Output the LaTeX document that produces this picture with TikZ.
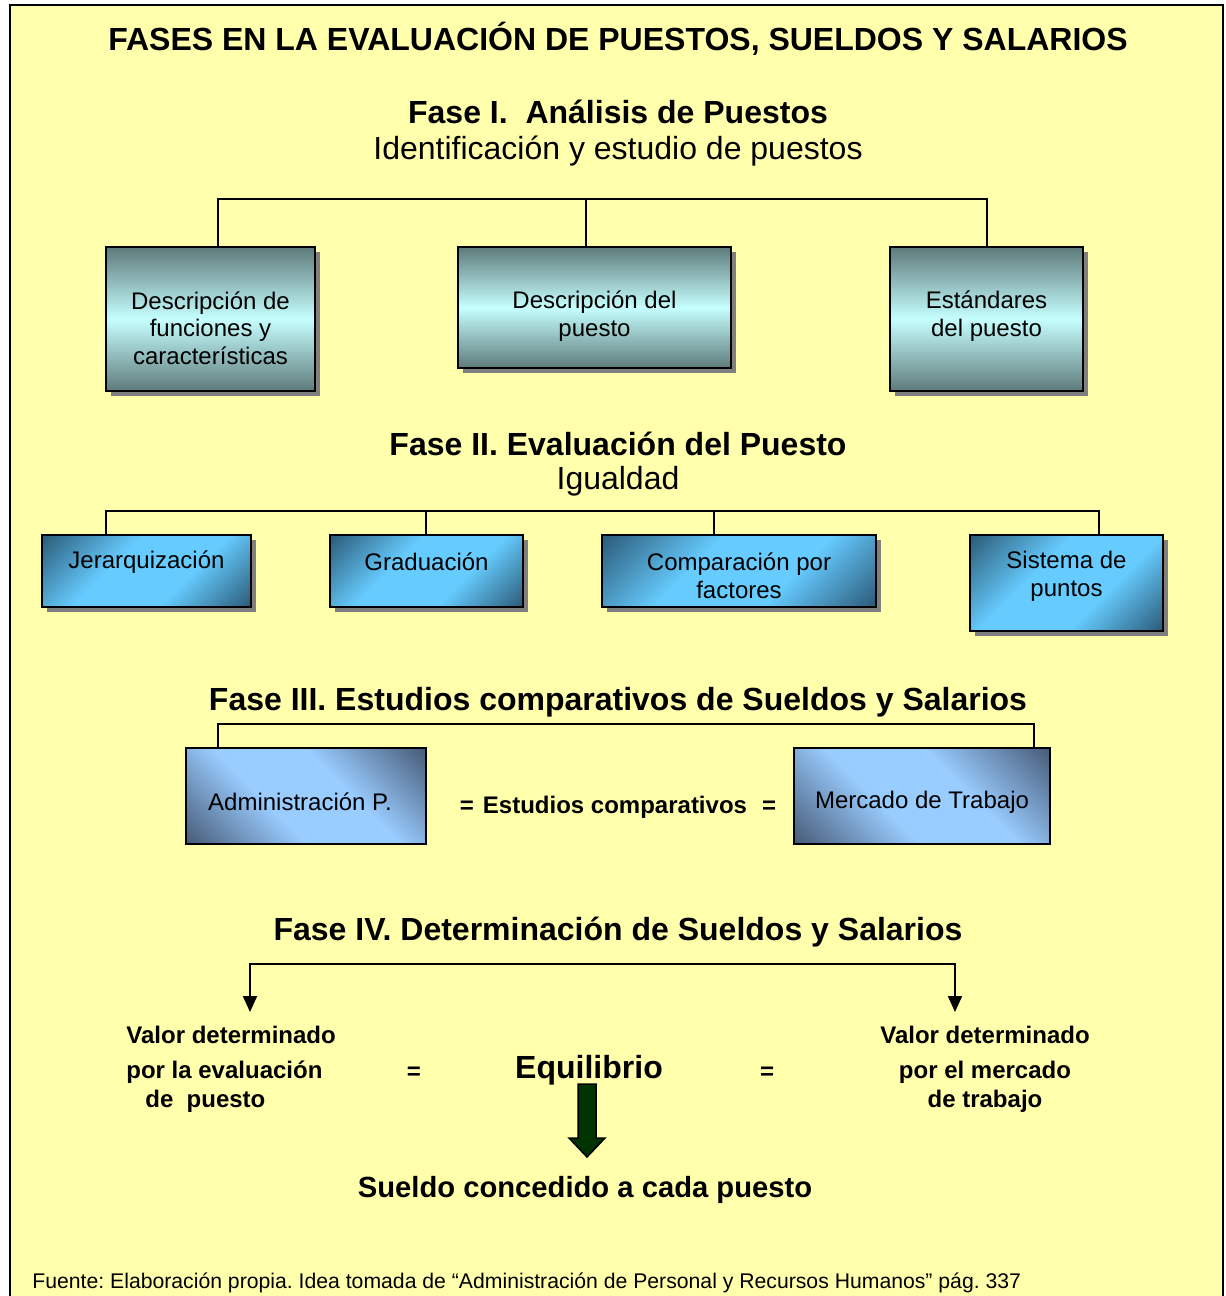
\documentclass[tikz,border=0pt]{standalone}
\usepackage{fontspec}
\setmainfont{Liberation Sans}
\usetikzlibrary{arrows.meta,shadows}
\frenchspacing
\definecolor{paper}{RGB}{255,255,172}
\definecolor{slatedark}{RGB}{94,122,122}
\definecolor{slatelight}{RGB}{198,255,255}
\definecolor{bluedark}{RGB}{44,92,122}
\definecolor{bluelight}{RGB}{102,204,255}
\definecolor{skydark}{RGB}{72,92,120}
\definecolor{skylight}{RGB}{153,204,255}
\definecolor{shadowgray}{RGB}{128,128,128}
\definecolor{eqgreen}{RGB}{0,51,0}
\pgfdeclarehorizontalshading{evalshade}{100bp}{color(0bp)=(bluedark); color(15bp)=(bluedark);
  color(40bp)=(bluelight); color(62bp)=(bluelight); color(85bp)=(bluedark); color(100bp)=(bluedark)}
\pgfdeclarehorizontalshading{compshade}{100bp}{color(0bp)=(skydark); color(15bp)=(skydark);
  color(40bp)=(skylight); color(60bp)=(skylight); color(85bp)=(skydark); color(100bp)=(skydark)}
\tikzset{
  anabox/.style={draw,line width=1pt,top color=slatedark,bottom color=slatedark,middle color=slatelight,
    drop shadow={shadow xshift=2.5pt,shadow yshift=-2.5pt,fill=shadowgray,opacity=1}},
  evalbox/.style={draw,line width=1pt,shading=evalshade,shading angle=-45,
    drop shadow={shadow xshift=2.5pt,shadow yshift=-2.5pt,fill=shadowgray,opacity=1}},
  compbox/.style={draw,line width=1pt,shading=compshade,shading angle=45},
  boxtext/.style={align=center,inner sep=0pt,font=\fontsize{12}{13.8}\selectfont},
  fasetitle/.style={inner sep=0pt,font=\fontsize{16}{19}\selectfont\bfseries},
  fasesub/.style={inner sep=0pt,font=\fontsize{16}{19}\selectfont},
  valtext/.style={inner sep=0pt,font=\fontsize{12}{14.4}\selectfont\bfseries},
  treeline/.style={line width=1pt},
  every picture/.style={line cap=rect,line join=miter}
}
\begin{document}
\begin{tikzpicture}[x=0.5pt,y=-0.5pt]
  \useasboundingbox (0,0) rectangle (1226,1296);
  \fill[paper] (10,5) rectangle (1223,1296);
  \draw[line width=1pt] (10,1296) -- (10,5) -- (1223,5) -- (1223,1296);

  \node[fasetitle] (title) at (618,39) {FASES EN LA EVALUACIÓN DE PUESTOS, SUELDOS Y SALARIOS};

  % fase I
  \node[fasetitle] (fase1) at (618,112) {Fase I.\ \ Análisis de Puestos};
  \node[fasesub] (fase1sub) at (618,151) {Identificación y estudio de puestos};
  \node[anabox,minimum width=104.5pt,minimum height=72pt] (desc) at (210.5,319) {};
  \node[anabox,minimum width=136.5pt,minimum height=60.5pt] (puesto) at (594.5,307.5) {};
  \node[anabox,minimum width=96.5pt,minimum height=72pt] (estand) at (986.5,319) {};
  \node[boxtext] (desct) at (desc.north |- 0,328) {Descripción de\\funciones y\\características};
  \node[boxtext] (puestot) at (puesto.north |- 0,316) {Descripción del\\puesto};
  \node[boxtext] (estandt) at (estand.north |- 0,316) {Estándares\\del puesto};
  \coordinate (f1l) at (218,199);
  \coordinate (f1m) at (586,199);
  \coordinate (f1r) at (987,199);
  \draw[treeline] (f1l) -- (f1r);
  \draw[treeline] (f1l) -- (f1l |- desc.north);
  \draw[treeline] (f1m) -- (f1m |- puesto.north);
  \draw[treeline] (f1r) -- (f1r |- estand.north);

  % fase II
  \node[fasetitle] (fase2) at (618,444) {Fase II. Evaluación del Puesto};
  \node[fasesub] (fase2sub) at (618,481) {Igualdad};
  \node[evalbox,minimum width=104.5pt,minimum height=36pt] (jerar) at (146.5,571) {};
  \node[evalbox,minimum width=96.5pt,minimum height=36pt] (grad) at (426.5,571) {};
  \node[evalbox,minimum width=137pt,minimum height=36pt] (compar) at (739,571) {};
  \node[evalbox,minimum width=96.5pt,minimum height=48pt] (sist) at (1066.5,583) {};
  \node[boxtext] (jerart) at (jerar.north |- 0,562) {Jerarquización};
  \node[boxtext] (gradt) at (grad.north |- 0,562) {Graduación};
  \node[boxtext] (compart) at (compar.north |- 0,576) {Comparación por\\factores};
  \node[boxtext] (sistt) at (sist.north |- 0,576) {Sistema de\\puntos};
  \coordinate (f2a) at (106,511);
  \coordinate (f2b) at (426,511);
  \coordinate (f2c) at (714,511);
  \coordinate (f2d) at (1099,511);
  \draw[treeline] (f2a) -- (f2d);
  \draw[treeline] (f2a) -- (f2a |- jerar.north);
  \draw[treeline] (f2b) -- (f2b |- grad.north);
  \draw[treeline] (f2c) -- (f2c |- compar.north);
  \draw[treeline] (f2d) -- (f2d |- sist.north);

  % fase III
  \node[fasetitle] (fase3) at (618,702) {Fase III. Estudios comparativos de Sueldos y Salarios};
  \node[compbox,minimum width=120pt,minimum height=48pt] (admin) at (306,796) {};
  \node[compbox,minimum width=128pt,minimum height=48pt] (mercado) at (922,796) {};
  \node[boxtext] (admint) at (300,802) {Administración P.};
  \node[boxtext] (mercadot) at (922,802) {Mercado de Trabajo};
  \node[valtext] (estudios) at (618,807) {=\hspace{4.5pt}Estudios comparativos\hspace{7.5pt}=};
  \coordinate (f3l) at (218,724);
  \coordinate (f3r) at (1034,724);
  \draw[treeline] (f3l) -- (f3r);
  \draw[treeline] (f3l) -- (f3l |- admin.north);
  \draw[treeline] (f3r) -- (f3r |- mercado.north);

  % fase IV
  \node[fasetitle] (fase4) at (618,932) {Fase IV. Determinación de Sueldos y Salarios};
  \node[valtext,align=left,anchor=north west] (valeval) at (126,1026)
    {Valor determinado\\[3pt]por la evaluación\\\hspace*{9.5pt}de\ \ puesto};
  \node[valtext,align=center,anchor=north] (valmerc) at (985,1026)
    {Valor determinado\\[3pt]por el mercado\\de trabajo};
  \node[valtext] (igual1) at (414,1073) {=};
  \node[valtext] (igual2) at (767,1073) {=};
  \node[fasetitle] (equi) at (589,1070) {Equilibrio};
  \node[inner sep=0pt,font=\fontsize{14.6}{17}\selectfont\bfseries] (sueldo) at (585,1190)
    {Sueldo concedido a cada puesto};
  \coordinate (f4l) at (250,964);
  \coordinate (f4r) at (955,964);
  \draw[treeline] (f4l) -- (f4r);
  \draw[treeline,-{Triangle[length=8pt,width=7pt]}] (f4l) -- (f4l |- 0,1012);
  \draw[treeline,-{Triangle[length=8pt,width=7pt]}] (f4r) -- (f4r |- 0,1012);
  \coordinate (eqtop) at (587,1084);
  \draw[line width=0.75pt,fill=eqgreen] (eqtop) ++(-9,0) -- ++(0,54) -- ++(-9,0)
    -- (587,1157) -- (605,1138) -- ++(-9,0) -- ++(0,-54) -- cycle;

  \node[inner sep=0pt,anchor=west,font=\fontsize{10.6}{12.7}\selectfont] (fuente) at (32,1283)
    {Fuente: Elaboración propia. Idea tomada de “Administración de Personal y Recursos Humanos” pág. 337};
\end{tikzpicture}
\end{document}
